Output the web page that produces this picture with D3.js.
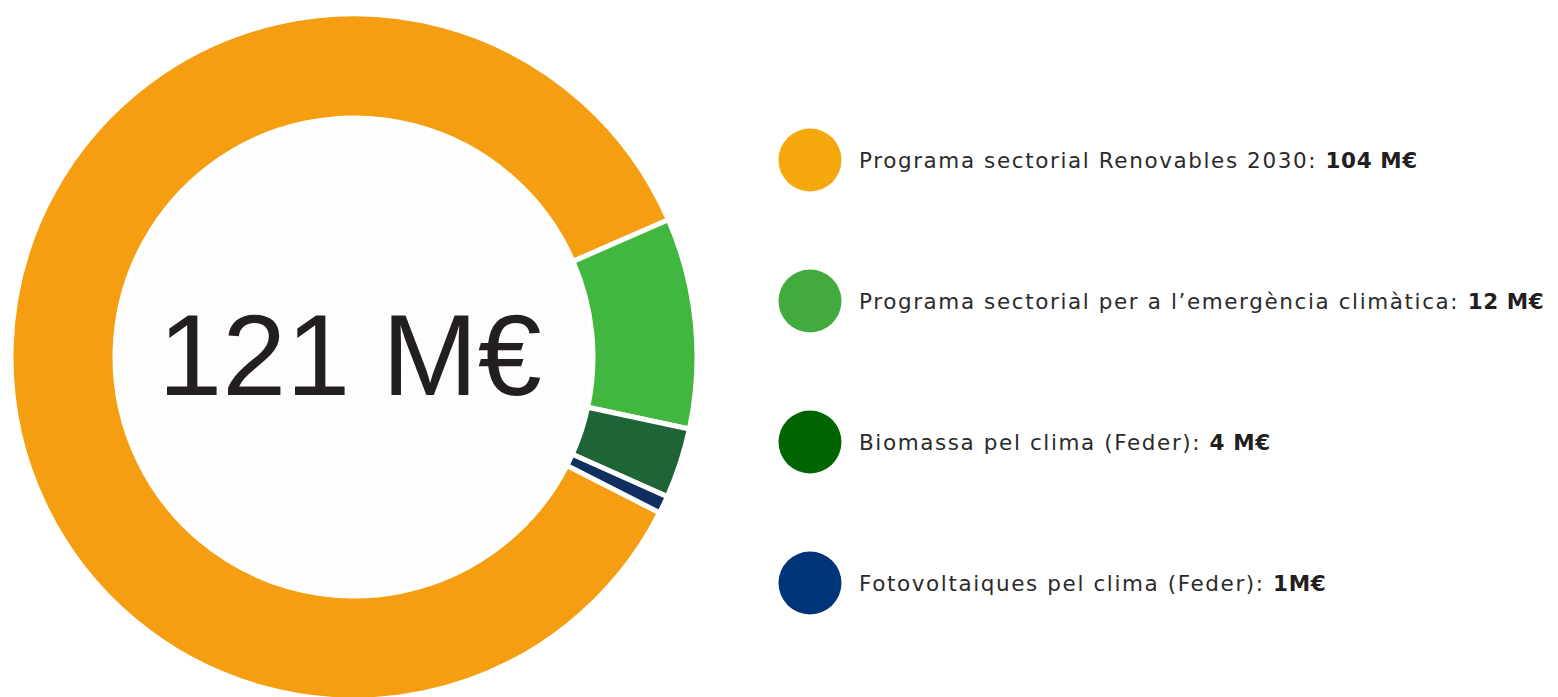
<!DOCTYPE html>
<html><head><meta charset="utf-8">
<script src="https://cdn.jsdelivr.net/npm/d3@7"></script>
<style>
html,body{margin:0;padding:0;background:#fff;}
svg{display:block;}
</style></head>
<body>
<svg id="chart" width="1558" height="697"></svg>
<script>
const categories = [
  "Programa sectorial Renovables 2030:",
  "Programa sectorial per a l’emergència climàtica:",
  "Biomassa pel clima (Feder):",
  "Fotovoltaiques pel clima (Feder):"
];
const values = [104, 12, 4, 1];
const valueLabels = ["104 M€", "12 M€", "4 M€", "1M€"];
const totalLabel = "121 M€";
const sliceColors = ["#F69E12", "#42B740", "#1F6437", "#0F2F5F"];
const legendColors = ["#F5A80C", "#42AA3E", "#006400", "#003478"];

const svg = d3.select("#chart");
const cx = 354, cy = 357, R = 343, r = 239;
const startA = 117 * Math.PI / 180;

const pie = d3.pie().sort(null).value(d => d)
  .startAngle(startA).endAngle(startA + 2 * Math.PI);
const arc = d3.arc().innerRadius(r).outerRadius(R);

const g = svg.append("g").attr("transform", `translate(${cx},${cy})`);
g.selectAll("path").data(pie(values)).join("path")
  .attr("d", arc)
  .attr("fill", (d, i) => sliceColors[i])
  .attr("stroke", "#fff")
  .attr("stroke-width", 5)
  .attr("stroke-linejoin", "miter");

g.append("circle").attr("r", r - 2).attr("fill", "#fdfdfd");

g.append("text")
  .attr("x", -4).attr("y", 38)
  .attr("text-anchor", "middle")
  .attr("font-family", "'Liberation Sans', Arial, sans-serif")
  .attr("font-size", 115)
  .attr("fill", "#231f20")
  .text(totalLabel);

const ly = d3.scalePoint().domain(d3.range(categories.length)).range([160, 583]);

const leg = svg.append("g").selectAll("g").data(categories).join("g")
  .attr("transform", (d, i) => `translate(0,${ly(i)})`);
leg.append("circle").attr("cx", 810).attr("cy", 0).attr("r", 31.5)
  .attr("fill", (d, i) => legendColors[i]);
const t = leg.append("text")
  .attr("x", 859).attr("y", 8)
  .attr("font-family", "'DejaVu Sans', sans-serif")
  .attr("font-size", 21.5)
  .attr("letter-spacing", 1.6)
  .attr("fill", "#2b2b2b");
t.append("tspan").text(d => d + " ");
t.append("tspan").attr("font-weight", 700).attr("letter-spacing", 0.6).attr("fill", "#231f20").text((d, i) => valueLabels[i]);
</script>
</body></html>
